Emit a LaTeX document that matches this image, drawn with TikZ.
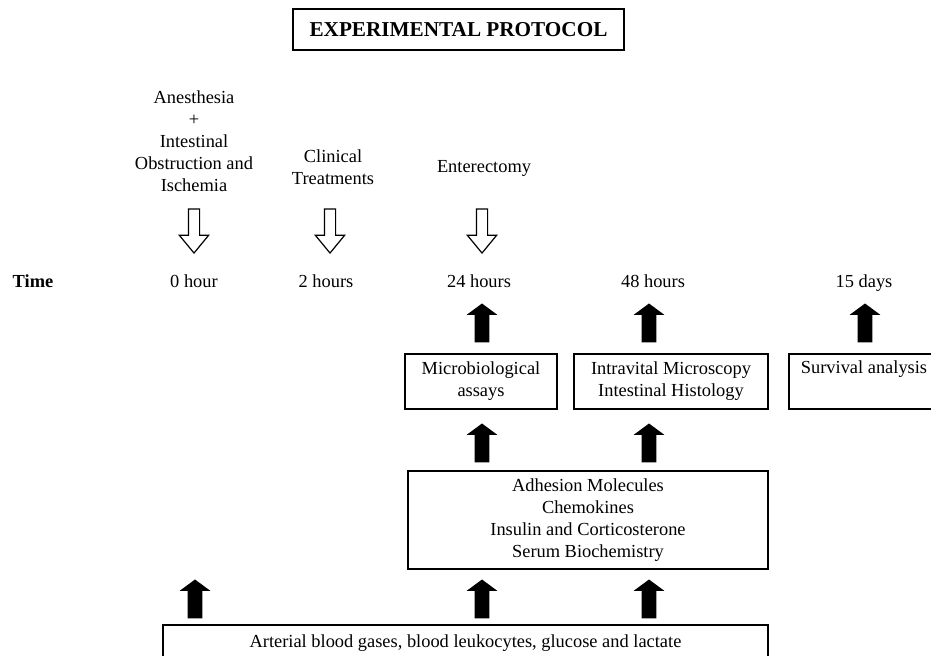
\documentclass[tikz,border=0pt]{standalone}
\usepackage{fontspec}
\setmainfont{Liberation Serif}
\usepackage{tikz}
\usetikzlibrary{shapes.arrows}

\tikzset{
  box/.style={draw,line width=0.6pt,align=center,inner sep=0pt},
  tm/.style={anchor=base,inner sep=0pt},
  holarr/.style={single arrow,draw,line width=0.6pt,shape border rotate=270,inner sep=2.5pt,
    minimum height=22pt,minimum width=14pt,single arrow head extend=4.5pt,single arrow tip angle=79,anchor=tip},
  fularr/.style={single arrow,fill=black,shape border rotate=90,inner sep=3.5pt,
    minimum height=19.5pt,minimum width=15pt,single arrow head extend=4pt,single arrow tip angle=107,anchor=tip},
}

\begin{document}
\begin{tikzpicture}[x=0.5pt,y=-0.5pt,font=\fontsize{9.2}{11}\selectfont]
  \useasboundingbox (0,0) rectangle (931,656);
  % title
  \node[box,line width=1pt,font=\fontsize{10.6}{12}\selectfont\bfseries,minimum width=165.5pt,minimum height=20.5pt](title)at(458.5,29.5){EXPERIMENTAL PROTOCOL};
  % events and time line
  \node[align=center](lab0)at(194,141.5){Anesthesia\\+\\Intestinal\\Obstruction and\\Ischemia};
  \node[align=center](lab2)at(333,167){Clinical\\Treatments};
  \node[tm](lab24)at(484,173){Enterectomy};
  \node[holarr](h0)at(194,254){};
  \node[holarr](h2)at(330,254){};
  \node[holarr](h24)at(482,254){};
  \node[tm,font=\fontsize{9.2}{11}\selectfont\bfseries](time)at(33,288){Time};
  \node[tm](t0)at(194,288){0 hour};
  \node[tm](t2)at(326,288){2 hours};
  \node[tm](t24)at(479,288){24 hours};
  \node[tm](t48)at(653,288){48 hours};
  \node[tm](t15)at(864,288){15 days};
  % analyses
  \node[fularr](u24)at(482,303){};
  \node[fularr](u48)at(649,303){};
  \node[fularr](u15)at(865,303){};
  \node[box,minimum width=76pt,minimum height=27.5pt](mic)at(481,381.5){Microbiological\\assays};
  \node[box,minimum width=97pt,minimum height=27.5pt](intra)at(671,381.5){Intravital Microscopy\\Intestinal Histology};
  \node[box,minimum width=75pt,minimum height=27.5pt](surv)at(864,381.5){Survival analysis\\\strut};
  \node[fularr](m24)at(482,423){};
  \node[fularr](m48)at(649,423){};
  \node[box,minimum width=180pt,minimum height=49pt](adh)at(588,520){Adhesion Molecules\\Chemokines\\Insulin and Corticosterone\\Serum Biochemistry};
  \node[fularr](b0)at(195,579){};
  \node[fularr](b24)at(482,579){};
  \node[fularr](b48)at(649,579){};
  \node[box,minimum width=302.5pt,minimum height=18pt](art)at(465.5,643){Arterial blood gases, blood leukocytes, glucose and lactate};
\end{tikzpicture}
\end{document}
